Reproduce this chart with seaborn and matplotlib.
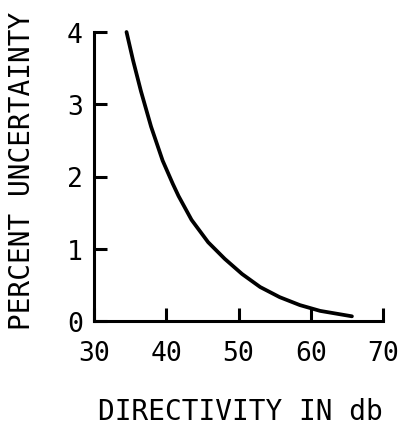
import matplotlib
matplotlib.use("Agg")
import matplotlib.pyplot as plt
import seaborn as sns
import pandas as pd

# Directivity (dB) versus percent uncertainty
directivity_db = [34.5, 35.4, 36.5, 37.9, 39.5, 40.9, 41.7, 43.5, 45.8,
                  48.1, 50.5, 53.0, 55.7, 58.5, 61.3, 65.7]
percent_uncertainty = [4.0, 3.61, 3.18, 2.69, 2.22, 1.90, 1.73, 1.40, 1.09,
                       0.86, 0.65, 0.47, 0.33, 0.22, 0.14, 0.065]

x_ticks = [30, 40, 50, 60, 70]
y_ticks = [0, 1, 2, 3, 4]

sns.set_style("ticks")
plt.rcParams["font.family"] = ["DejaVu Sans Mono", "DejaVu Sans"]
plt.rcParams["xtick.direction"] = "in"
plt.rcParams["ytick.direction"] = "in"

df = pd.DataFrame({"db": directivity_db, "pct": percent_uncertainty})

fig = plt.figure(figsize=(4.02, 4.27), dpi=100)
ax = fig.add_axes([94 / 402, 1 - 322 / 427, 289 / 402, 289 / 427])

sns.lineplot(data=df, x="db", y="pct", ax=ax, sort=False, estimator=None,
             color="black", linewidth=2.7, solid_capstyle="round",
             solid_joinstyle="round", clip_on=False)

ax.set_xlim(30, 70)
ax.set_ylim(0, 4)
ax.set_xticks(x_ticks)
ax.set_yticks(y_ticks)
ax.set_xticklabels([str(v) for v in x_ticks])
ax.set_yticklabels([str(v) for v in y_ticks])

for side in ("top", "right"):
    ax.spines[side].set_visible(False)
for side in ("left", "bottom"):
    ax.spines[side].set_linewidth(2.2)
    ax.spines[side].set_color("black")

ax.tick_params(axis="both", direction="in", length=9.5, width=2.2, color="black",
               labelsize=19, labelcolor="black")
ax.tick_params(axis="x", pad=14)
ax.tick_params(axis="y", pad=8)

ax.set_xlabel("DIRECTIVITY IN db", fontsize=20, color="black")
ax.set_ylabel("PERCENT UNCERTAINTY", fontsize=20, color="black")
ax.xaxis.set_label_coords(0.505, -0.262)
ax.yaxis.set_label_coords(-0.2, 0.522)

fig.savefig("out.png", dpi=100, facecolor="white")
